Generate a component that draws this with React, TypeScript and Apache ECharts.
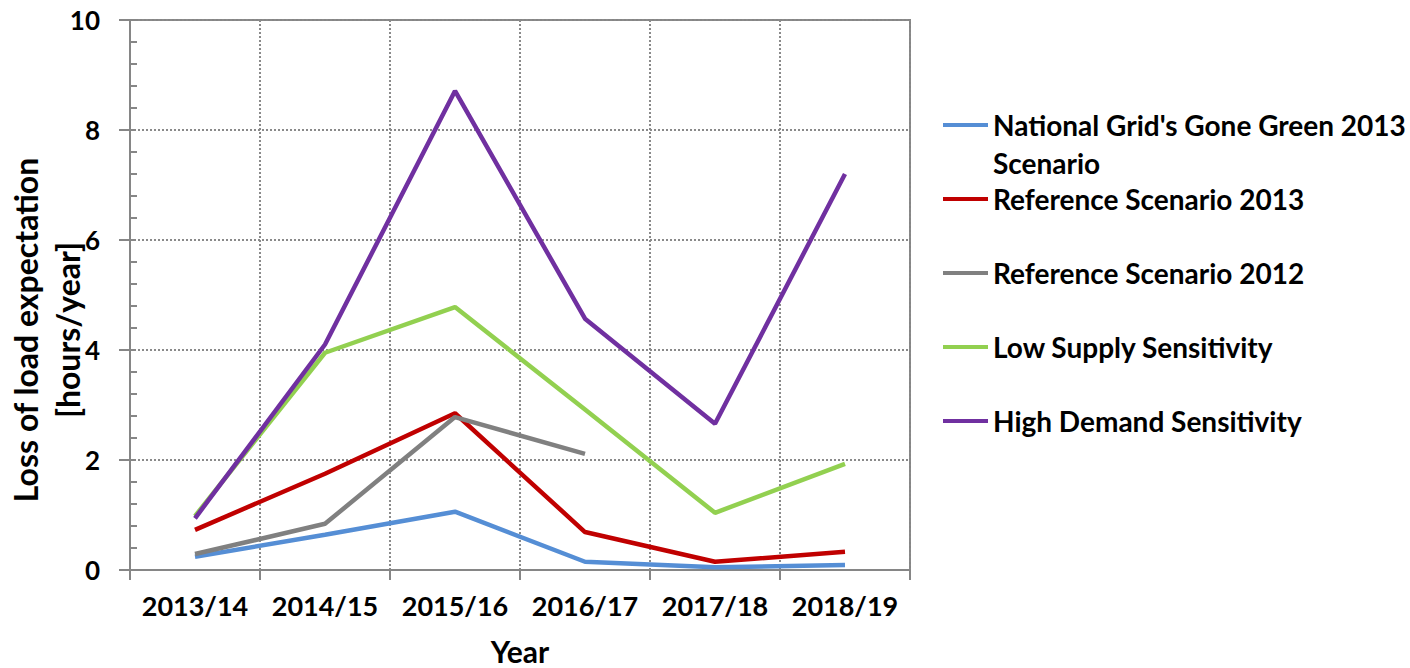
import React, { useEffect, useRef } from "react";
import * as echarts from "echarts";

const categories = ["2013/14", "2014/15", "2015/16", "2016/17", "2017/18", "2018/19"];
const goneGreen2013 = [0.24, 0.64, 1.06, 0.15, 0.05, 0.09];
const reference2013 = [0.73, 1.75, 2.85, 0.69, 0.15, 0.33];
const reference2012 = [0.29, 0.84, 2.78, 2.11];
const lowSupply = [0.98, 3.95, 4.78, 2.92, 1.04, 1.93];
const highDemand = [0.94, 4.1, 8.71, 4.57, 2.66, 7.2];
const yTicks = [0, 2, 4, 6, 8, 10];

const seriesNames = [
  "National Grid's Gone Green 2013 Scenario",
  "Reference Scenario 2013",
  "Reference Scenario 2012",
  "Low Supply Sensitivity",
  "High Demand Sensitivity",
];
const seriesColors = ["#558ED5", "#C00000", "#808080", "#92D050", "#7030A0"];
const seriesData = [goneGreen2013, reference2013, reference2012, lowSupply, highDemand];

const FONT = "Lato";
const AXIS = "#868686";

export default function App() {
  const ref = useRef<HTMLDivElement>(null);
  useEffect(() => {
    document.body.style.margin = "0";
    const chart = echarts.init(ref.current!, null, { renderer: "svg" });
    const legendCenters = [125, 199, 273, 347, 421];
    const legends = seriesNames.map((name, i) => {
      const isFirst = i === 0;
      const lh = isFirst ? 38 : 32;
      const h = isFirst ? lh * 3 : lh;
      return {
        show: true,
        data: [name],
        left: 943,
        top: legendCenters[i] - h / 2,
        icon: "rect",
        itemWidth: 45,
        itemHeight: 4,
        itemGap: 0,
        padding: 0,
        selectedMode: false,
        formatter: isFirst ? () => "\nNational Grid's Gone Green 2013\nScenario" : undefined,
        textStyle: {
          fontFamily: FONT,
          fontWeight: "bold",
          fontSize: 28,
          color: "#000",
          lineHeight: lh,
          padding: [0, 0, 0, 0],
        },
      };
    });
    chart.setOption({
      animation: false,
      backgroundColor: "#fff",
      grid: {
        left: 130,
        right: 500,
        top: 20,
        bottom: 98,
        show: true,
        borderColor: AXIS,
        borderWidth: 2,
        containLabel: false,
        outerBoundsMode: "none",
      },
      legend: legends,
      xAxis: {
        type: "category",
        data: categories,
        boundaryGap: true,
        name: "Year",
        nameLocation: "middle",
        nameGap: 66,
        nameMoveOverlap: false,
        nameTextStyle: { fontFamily: FONT, fontWeight: "bold", fontSize: 30, lineHeight: 30, color: "#000" },
        axisLine: { lineStyle: { color: AXIS, width: 2 } },
        axisTick: { show: true, length: 10, interval: 0, lineStyle: { color: AXIS, width: 2 } },
        axisLabel: {
          interval: 0,
          margin: 22,
          fontFamily: FONT,
          fontWeight: "bold",
          fontSize: 27,
          color: "#000",
        },
        splitLine: {
          show: true,
          interval: 0,
          lineStyle: { color: "#8a8a8a", width: 2, type: [2, 2] },
        },
      },
      yAxis: [
        {
          type: "value",
          min: yTicks[0],
          max: yTicks[yTicks.length - 1],
          interval: 2,
          position: "left",
          name: "Loss of load expectation\n[hours/year]",
          nameLocation: "middle",
          nameGap: 42,
          nameMoveOverlap: false,
          nameTextStyle: {
            fontFamily: FONT,
            fontWeight: "bold",
            fontSize: 32,
            color: "#000",
            lineHeight: 42,
            padding: [0, 70, 0, 0],
          },
          axisLine: { show: true, lineStyle: { color: AXIS, width: 2 } },
          axisTick: { show: true, length: 11, lineStyle: { color: AXIS, width: 2 } },
          axisLabel: {
            margin: 30,
            fontFamily: FONT,
            fontWeight: "bold",
            fontSize: 26,
            color: "#000",
          },
          splitLine: { show: true, lineStyle: { color: "#8a8a8a", width: 2, type: [2, 2] } },
        },
        {
          type: "value",
          min: yTicks[0],
          max: yTicks[yTicks.length - 1],
          interval: 2,
          position: "left",
          axisLine: { show: true, lineStyle: { color: AXIS, width: 2 } },
          axisTick: { show: true, inside: true, length: 6, lineStyle: { color: AXIS, width: 2 } },
          minorTick: { show: true, splitNumber: 5, length: 7, lineStyle: { color: AXIS, width: 2 } },
          axisLabel: { show: false },
          splitLine: { show: false },
        },
      ],
      series: seriesNames.map((name, i) => ({
        name,
        type: "line",
        data: seriesData[i],
        symbol: "none",
        color: seriesColors[i],
        lineStyle: { color: seriesColors[i], width: 4.5 },
        z: 3,
      })),
    });
    return () => chart.dispose();
  }, []);
  return <div ref={ref} style={{ width: 1410, height: 668 }} />;
}
